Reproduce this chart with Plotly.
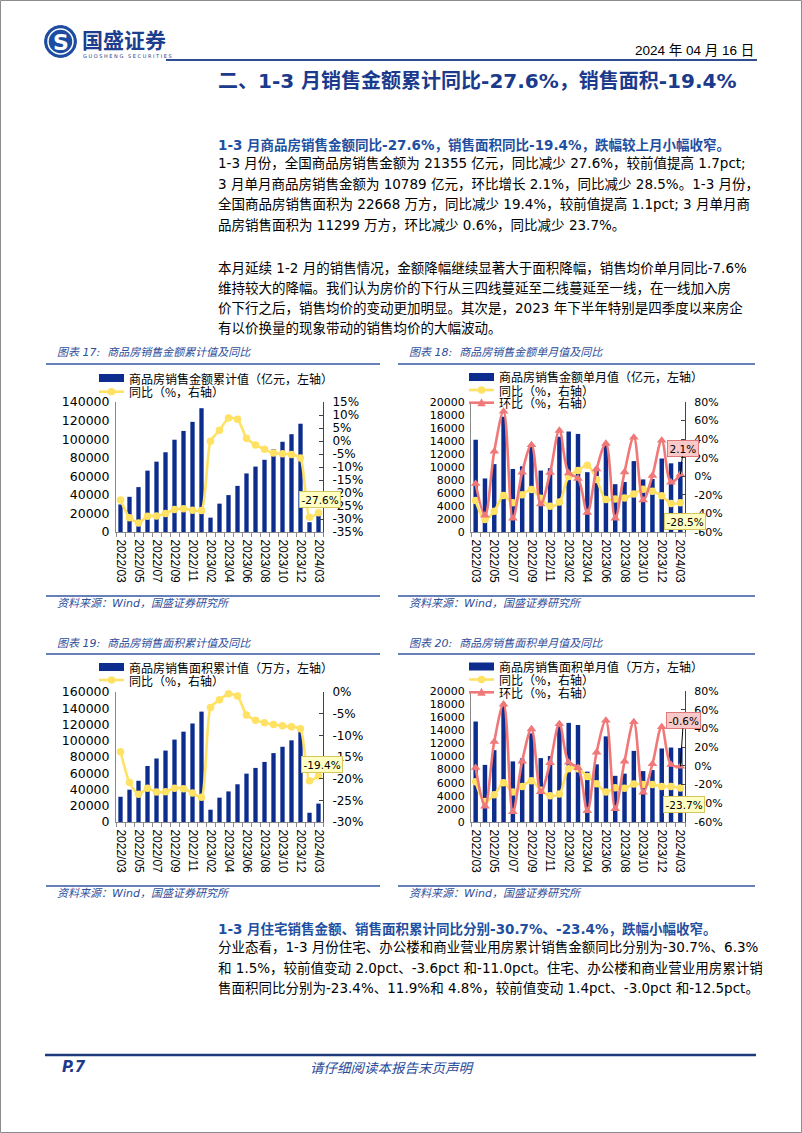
import plotly.graph_objects as go

W, H = 802, 1133
def px(x): return x / W
def py(y): return 1 - y / H

NAVY_BAR = "#0C2D8E"
YEL = "#FFE163"
PINK = "#F07878"
TXT_BLUE = "#1F4FA0"
TITLE_BLUE = "#1B3A8C"
LINE_BLUE = "#2F4F95"
CJK = "DejaVu Sans, Noto Sans CJK SC"

# ---------------- data ----------------
months = ["2022/03", "2022/04", "2022/05", "2022/06", "2022/07", "2022/08", "2022/09",
          "2022/10", "2022/11", "2022/12", "2023/02", "2023/03", "2023/04", "2023/05",
          "2023/06", "2023/07", "2023/08", "2023/09", "2023/10", "2023/11", "2023/12",
          "2024/02", "2024/03"]
tick_labels = ["2022/03", "2022/05", "2022/07", "2022/09", "2022/11", "2023/02",
               "2023/04", "2023/06", "2023/08", "2023/10", "2023/12", "2024/03"]

sales_cum = [29655, 37892, 48337, 66072, 75763, 85870, 99380, 108832, 118648, 133308,
             15459, 30545, 39750, 49673, 63092, 70450, 77763, 89070, 97161, 105318, 116622,
             10566, 21355]
sales_cum_yoy = [-22.7, -29.5, -31.5, -28.9, -28.8, -27.9, -26.3, -26.1, -26.6, -26.7,
                 -0.1, 4.1, 8.8, 8.4, 1.1, -1.5, -3.2, -4.6, -4.9, -5.2, -6.5, -29.3, -27.6]

sales_month = [14196, 8237, 10445, 17735, 9691, 10107, 13510, 9452, 9816, 14660,
               15459, 15086, 9205, 9923, 13419, 7358, 7689, 10910, 8091, 8157, 11304,
               10566, 10789]
sales_month_yoy = [-26.2, -46.6, -37.7, -20.8, -28.6, -19.9, -14.2, -23.7, -32.2, -27.7,
                   -0.1, 6.2, 11.8, -3.5, -25.0, -24.5, -23.5, -19.0, -14.0, -16.0, -21.0,
                   -29.3, -28.5]
sales_month_mom = [-8.0, -42.0, 26.8, 69.8, -45.4, 4.3, 33.7, -30.0, 3.9, 49.3,
                   3.5, -2.4, -39.0, 7.8, 35.2, -45.2, 4.5, 41.9, -25.8, 0.8, 38.6,
                   -6.5, 2.1]

area_cum = [31046, 39768, 50738, 68923, 78178, 87890, 101422, 111179, 121250, 135837,
            15133, 29946, 37636, 46440, 59515, 66563, 73949, 84806, 92579, 100509, 111735,
            11369, 22668]
area_cum_yoy = [-13.8, -20.9, -23.6, -22.2, -23.1, -23.0, -22.2, -22.3, -23.3, -24.3,
                -3.6, -1.8, -0.4, -0.9, -5.3, -6.5, -7.1, -7.5, -7.8, -8.0, -8.5,
                -20.5, -19.4]

area_month = [15343, 8722, 10970, 18185, 9255, 9712, 13532, 9757, 10071, 14587,
              15133, 14813, 7690, 8804, 13075, 7048, 7386, 10857, 7773, 7930, 11226,
              11369, 11299]
area_month_yoy = [-17.0, -38.0, -31.0, -18.0, -28.0, -22.0, -16.0, -26.0, -32.0, -30.0,
                  -3.0, -3.0, -11.5, -19.0, -28.0, -23.5, -24.0, -19.5, -20.0, -20.0, -22.0,
                  -22.0, -23.7]
area_month_mom = [-2.0, -43.2, 25.8, 65.8, -49.1, 4.9, 39.3, -27.9, 3.2, 44.8,
                  3.7, -2.1, -48.1, 14.5, 48.5, -46.1, 4.8, 47.0, -28.4, 2.0, 41.6,
                  1.3, -0.6]

cum_sales_left_ticks = [0, 20000, 40000, 60000, 80000, 100000, 120000, 140000]
cum_sales_right_ticks = [-35, -30, -25, -20, -15, -10, -5, 0, 5, 10, 15]
month_left_ticks = [0, 2000, 4000, 6000, 8000, 10000, 12000, 14000, 16000, 18000, 20000]
month_right_ticks = [-60, -40, -20, 0, 20, 40, 60, 80]
cum_area_left_ticks = [0, 20000, 40000, 60000, 80000, 100000, 120000, 140000, 160000]
cum_area_right_ticks = [-30, -25, -20, -15, -10, -5, 0]

xs = list(range(len(months)))
tick_pos = [months.index(t) for t in tick_labels]

charts = [
    dict(x0=116, x1=323, top=402, bot=532, bars=sales_cum,
         lines=[(sales_cum_yoy, YEL, "circle", 0.6)],
         lticks=cum_sales_left_ticks, rticks=cum_sales_right_ticks, lfont=12.5, rfont=12),
    dict(x0=471, x1=685, top=402, bot=532, bars=sales_month,
         lines=[(sales_month_yoy, YEL, "circle", 1.0), (sales_month_mom, PINK, "triangle-up", 1.0)],
         lticks=month_left_ticks, rticks=month_right_ticks, lfont=11, rfont=11),
    dict(x0=116, x1=323, top=692, bot=822, bars=area_cum,
         lines=[(area_cum_yoy, YEL, "circle", 0.6)],
         lticks=cum_area_left_ticks, rticks=cum_area_right_ticks, lfont=12.5, rfont=12),
    dict(x0=471, x1=685, top=691, bot=822, bars=area_month,
         lines=[(area_month_yoy, YEL, "circle", 1.0), (area_month_mom, PINK, "triangle-up", 1.0)],
         lticks=month_left_ticks, rticks=month_right_ticks, lfont=11, rfont=11),
]

fig = go.Figure()
layout_axes = {}
for i, c in enumerate(charts):
    xname = "x" if i == 0 else f"x{i+1}"
    xkey = "xaxis" if i == 0 else f"xaxis{i+1}"
    nl, nr = 2 * i + 1, 2 * i + 2
    yl = "y" if nl == 1 else f"y{nl}"
    ylkey = "yaxis" if nl == 1 else f"yaxis{nl}"
    yr = f"y{nr}"
    yrkey = f"yaxis{nr}"
    fig.add_trace(go.Bar(x=xs, y=c["bars"], marker_color=NAVY_BAR, marker_line_width=0,
                         xaxis=xname, yaxis=yl, showlegend=False, width=0.48))
    for vals, col, sym, sm in c["lines"]:
        fig.add_trace(go.Scatter(x=xs, y=vals, mode="lines+markers",
                                 line=dict(color=col, width=2.6, shape="spline", smoothing=sm),
                                 marker=dict(symbol=sym, size=7.5 if sym == "circle" else 8.5, color=col),
                                 xaxis=xname, yaxis=yr, showlegend=False, cliponaxis=False))
    layout_axes[xkey] = dict(domain=[px(c["x0"]), px(c["x1"])], anchor=yl, range=[-0.5, len(months) - 0.5],
                             tickmode="array", tickvals=tick_pos, ticktext=tick_labels, tickangle=90,
                             showline=True, linecolor="#8a8a8a", linewidth=1, showgrid=False, zeroline=False,
                             ticks="", ticklabelstandoff=4, automargin=False,
                             minor=dict(tickmode="linear", tick0=-0.5, dtick=1, ticks="outside", ticklen=4,
                                        tickcolor="#8a8a8a", showgrid=False),
                             tickfont=dict(family="Liberation Sans", size=12, color="#000"))
    lt = c["lticks"]
    layout_axes[ylkey] = dict(domain=[py(c["bot"]), py(c["top"])], anchor=xname, range=[lt[0], lt[-1]],
                              tickmode="array", tickvals=lt, ticktext=[str(v) for v in lt],
                              showline=True, linecolor="#8a8a8a", linewidth=1, showgrid=False, zeroline=False,
                              ticks="", ticklabelstandoff=3, automargin=False,
                              tickfont=dict(family="DejaVu Sans", size=c["lfont"], color="#000"))
    rt = c["rticks"]
    layout_axes[yrkey] = dict(overlaying=yl, anchor=xname, side="right", range=[rt[0], rt[-1]],
                              tickmode="array", tickvals=rt, ticktext=[f"{v}%" for v in rt],
                              showline=True, linecolor="#444", linewidth=1, showgrid=False, zeroline=False,
                              ticks="inside", ticklen=4, tickcolor="#444", ticklabelstandoff=6,
                              automargin=False,
                              tickfont=dict(family="DejaVu Sans", size=c["rfont"], color="#000"))

shapes = []
annotations = []

def text(x, y, s, size=13.5, color="#000", anchor="left", family=CJK, yanchor="middle"):
    annotations.append(dict(x=px(x), y=py(y), xref="paper", yref="paper", text=s, showarrow=False,
                            xanchor=anchor, yanchor=yanchor, font=dict(family=family, size=size, color=color)))

def hline(x0, x1, y, color=LINE_BLUE, width=1.5):
    shapes.append(dict(type="line", xref="paper", yref="paper", x0=px(x0), x1=px(x1), y0=py(y), y1=py(y),
                       line=dict(color=color, width=width)))

# page border
shapes.append(dict(type="rect", xref="paper", yref="paper", x0=px(0.5), x1=px(801.5), y0=py(0.5), y1=py(1132.5),
                   line=dict(color="#8c8c8c", width=1)))

# header
shapes.append(dict(type="circle", xref="paper", yref="paper", x0=px(44.5), x1=px(76.5), y0=py(57.5), y1=py(25.5),
                   fillcolor="#1D4DA0", line=dict(color="#1D4DA0", width=1)))
shapes.append(dict(type="circle", xref="paper", yref="paper", x0=px(48), x1=px(73), y0=py(54), y1=py(29),
                   fillcolor="rgba(0,0,0,0)", line=dict(color="white", width=1.5)))
text(60.5, 42, "<b>S</b>", size=22, color="white", anchor="center", family="DejaVu Sans")
text(80, 39, "<b>国盛证券</b>", size=21, color="#1D3E8E", family="Noto Sans CJK SC")
text(81, 56, "G U O S H E N G   S E C U R I T I E S", size=5, color="#1D3E8E", family="DejaVu Sans")
text(756, 50, "2024 年 04 月 16 日", size=13.5, color="#000", anchor="right",
     family="Liberation Sans, Noto Sans CJK SC")
hline(166, 757, 60, color="#2F4D8F", width=2)
text(477, 81, "<b>二、1-3 月销售金额累计同比-27.6%，销售面积-19.4%</b>", size=20, color=TITLE_BLUE,
     anchor="center", family=CJK)

# body paragraph 1
para1_head = "<b>1-3 月商品房销售金额同比-27.6%，销售面积同比-19.4%，跌幅较上月小幅收窄。</b>"
para1 = ["1-3 月份，全国商品房销售金额为 21355 亿元，同比减少 27.6%，较前值提高 1.7pct;",
         "3 月单月商品房销售金额为 10789 亿元，环比增长 2.1%，同比减少 28.5%。1-3 月份，",
         "全国商品房销售面积为 22668 万方，同比减少 19.4%，较前值提高 1.1pct; 3 月单月商",
         "品房销售面积为 11299 万方，环比减少 0.6%，同比减少 23.7%。"]
para2 = ["本月延续 1-2 月的销售情况，金额降幅继续显著大于面积降幅，销售均价单月同比-7.6%",
         "维持较大的降幅。我们认为房价的下行从三四线蔓延至二线蔓延至一线，在一线加入房",
         "价下行之后，销售均价的变动更加明显。其次是，2023 年下半年特别是四季度以来房企",
         "有以价换量的现象带动的销售均价的大幅波动。"]
text(216, 145, para1_head, size=13.5, color=TXT_BLUE)
for k, s in enumerate(para1):
    text(216, 163 + 20.5 * k, s, size=13.5)
for k, s in enumerate(para2):
    text(216, 268 + 20 * k, s, size=13.5)

# chart frames
chart_titles = ["图表 17:  商品房销售金额累计值及同比", "图表 18:  商品房销售金额单月值及同比",
                "图表 19:  商品房销售面积累计值及同比", "图表 20:  商品房销售面积单月值及同比"]
frames = [(55, 46, 380, 353, 364, 596, 603), (407, 398, 755, 353, 364, 596, 603),
          (55, 46, 380, 643, 654, 886, 893), (407, 398, 755, 643, 654, 886, 893)]
for t, (tx, lx0, lx1, ty, ly, sy, sty) in zip(chart_titles, frames):
    text(tx, ty, "<i>" + t + "</i>", size=11, color="#2E4E9A")
    hline(lx0, lx1, ly, color="#3356A0", width=1.5)
    hline(lx0, lx1, sy, color="#3356A0", width=1.5)
    text(tx, sty, "<i>资料来源：Wind，国盛证券研究所</i>", size=11, color="#2E4E9A")

# legends
legends = [
    (99, [("bar", "商品房销售金额累计值（亿元，左轴）", 378), ("circle", "同比（%，右轴）", 391.7)]),
    (469, [("bar", "商品房销售金额单月值（亿元，左轴）", 377), ("circle", "同比（%，右轴）", 390),
           ("tri", "环比（%，右轴）", 402.7)]),
    (99, [("bar", "商品房销售面积累计值（万方，左轴）", 667), ("circle", "同比（%，右轴）", 680)]),
    (469, [("bar", "商品房销售面积单月值（万方，左轴）", 666.5), ("circle", "同比（%，右轴）", 679.5),
           ("tri", "环比（%，右轴）", 692.3)]),
]
for lx, items in legends:
    for kind, label, ly in items:
        if kind == "bar":
            shapes.append(dict(type="rect", xref="paper", yref="paper", x0=px(lx), x1=px(lx + 25),
                               y0=py(ly + 4), y1=py(ly - 4), fillcolor=NAVY_BAR, line=dict(width=0)))
        else:
            col = YEL if kind == "circle" else PINK
            hline(lx, lx + 25, ly, color=col, width=2.6)
            cx = lx + 12.5
            if kind == "circle":
                shapes.append(dict(type="circle", xref="paper", yref="paper", x0=px(cx - 3.8), x1=px(cx + 3.8),
                                   y0=py(ly + 3.8), y1=py(ly - 3.8), fillcolor=col, line=dict(width=0)))
            else:
                path = (f"M {px(cx - 4.2)},{py(ly + 3.5)} L {px(cx + 4.2)},{py(ly + 3.5)} "
                        f"L {px(cx)},{py(ly - 4.5)} Z")
                shapes.append(dict(type="path", xref="paper", yref="paper", path=path,
                                   fillcolor=col, line=dict(width=0)))
        text(lx + 28, ly, label, size=12, color="#000", family="Noto Sans CJK SC")

# data labels
last = len(months) - 1
YBOX = dict(bgcolor="#FFFFC4", bordercolor="#D9C65A", borderwidth=1, borderpad=1.5)
PBOX = dict(bgcolor="#F9C8C8", bordercolor="#E07A7A", borderwidth=1, borderpad=1.5)
lab_font = dict(family="DejaVu Sans", size=10.5, color="#000")
annotations.append(dict(x=xs[last], y=sales_cum_yoy[last], xref="x", yref="y2",
                        text=f"{sales_cum_yoy[last]}%", showarrow=False, xshift=1, yshift=13,
                        font=lab_font, **YBOX))
annotations.append(dict(x=xs[last], y=sales_month_mom[last], xref="x2", yref="y4",
                        text=f"{sales_month_mom[last]}%", showarrow=True, arrowhead=0, arrowwidth=1,
                        arrowcolor="#000", ax=3, ay=-26, font=lab_font, **PBOX))
annotations.append(dict(x=xs[last], y=sales_month_yoy[last], xref="x2", yref="y4",
                        text=f"{sales_month_yoy[last]}%", showarrow=False, xshift=5, yshift=-19,
                        font=lab_font, **YBOX))
annotations.append(dict(x=xs[last], y=area_cum_yoy[last], xref="x3", yref="y6",
                        text=f"{area_cum_yoy[last]}%", showarrow=False, xshift=3, yshift=12,
                        font=lab_font, **YBOX))
annotations.append(dict(x=xs[last], y=area_month_mom[last], xref="x4", yref="y8",
                        text=f"{area_month_mom[last]}%", showarrow=True, arrowhead=0, arrowwidth=1,
                        arrowcolor="#000", ax=3, ay=-46, font=lab_font, **PBOX))
annotations.append(dict(x=xs[last], y=area_month_yoy[last], xref="x4", yref="y8",
                        text=f"{area_month_yoy[last]}%", showarrow=False, xshift=4, yshift=-16,
                        font=lab_font, **YBOX))

# bottom paragraph
bot_head = "<b>1-3 月住宅销售金额、销售面积累计同比分别-30.7%、-23.4%，跌幅小幅收窄。</b>"
bot = ["分业态看，1-3 月份住宅、办公楼和商业营业用房累计销售金额同比分别为-30.7%、6.3%",
       "和 1.5%，较前值变动 2.0pct、-3.6pct 和-11.0pct。住宅、办公楼和商业营业用房累计销",
       "售面积同比分别为-23.4%、11.9%和 4.8%，较前值变动 1.4pct、-3.0pct 和-12.5pct。"]
text(216, 929, bot_head, size=13.5, color=TXT_BLUE)
for k, s in enumerate(bot):
    text(216, 947 + 20.5 * k, s, size=13.5)

# footer
hline(45, 756, 1055, color="#1F3A7A", width=2.5)
text(60, 1067, "<b><i>P.7</i></b>", size=15, color="#1F3A8C", family="DejaVu Sans")
text(392.5, 1067, "<i>请仔细阅读本报告末页声明</i>", size=13.5, color="#2A4A9A", anchor="center",
     family="Noto Sans CJK SC")

fig.update_layout(width=W, height=H, margin=dict(l=0, r=0, t=0, b=0, pad=0, autoexpand=False),
                  paper_bgcolor="white", plot_bgcolor="white", showlegend=False, bargap=0.5,
                  hovermode=False, shapes=shapes, annotations=annotations, **layout_axes)
fig.write_html("out.html", config={"displayModeBar": False, "staticPlot": True},
               post_script="document.body.style.margin='0';document.body.style.padding='0';"
                           "document.body.style.overflow='hidden';")
